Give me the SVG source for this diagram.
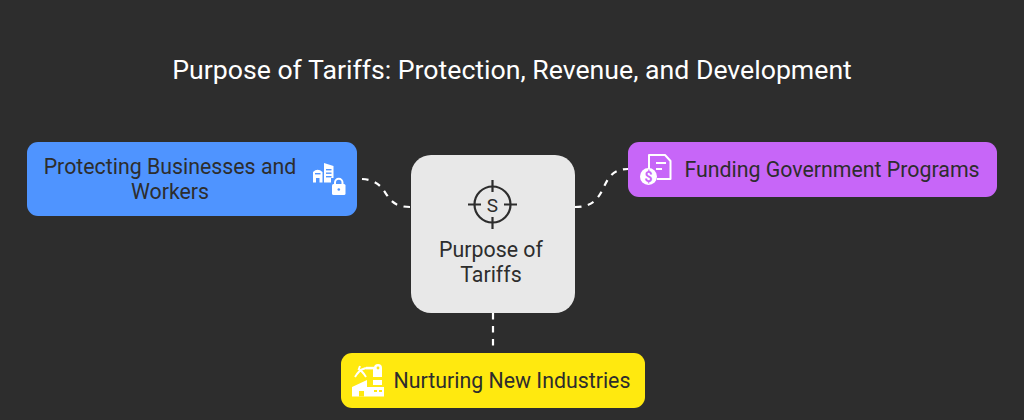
<svg xmlns="http://www.w3.org/2000/svg" width="1024" height="420" viewBox="0 0 1024 420">
<style>
text{font-family:Roboto,"Liberation Sans",sans-serif;font-size:21.33px;fill:#2d2d2d;text-anchor:middle}
.t{fill:#fff;font-size:26.67px}
.c{fill:none;stroke:#fff;stroke-width:2.2;stroke-dasharray:6.500 6.500}
.w{fill:#fff}
.ws{fill:none;stroke:#fff;stroke-width:2;stroke-linejoin:round}
.k{fill:none;stroke:#2d2d2d;stroke-width:2.2}
</style>
<rect width="1024" height="420" fill="#2d2d2d"/>
<text class="t" x="512" y="79">Purpose of Tariffs: Protection, Revenue, and Development</text>
<g id="connectors">
<path class="c" d="M362 179C392 181 380 207 410 207"/>
<path class="c" d="M575 207C612 207 596 169 628 169"/>
<path class="c" d="M493 313V346"/>
</g>
<g id="node-protecting">
<rect x="27" y="142" width="330" height="74" rx="11" fill="#4f94ff"/>
<text x="170" y="174">Protecting Businesses and</text>
<text x="170" y="199">Workers</text>
<path class="w" d="M313 172Q317.500 167.500 322.500 172V182.500H319.500V178H316V182.500H313ZM324 163L333.500 166V178H331V182.500H324Z"/>
<rect x="315" y="173" width="5.500" height="1.400" fill="#4f94ff"/>
<rect x="326" y="169" width="5.500" height="1.400" fill="#4f94ff"/><rect x="326" y="172.500" width="5.500" height="1.400" fill="#4f94ff"/><rect x="326" y="176" width="5.500" height="1.400" fill="#4f94ff"/>
<rect x="332" y="184" width="13.500" height="11" rx="1.500" class="w"/>
<path d="M335 185V182.500a3.700 3.700 0 0 1 7.500 0V185" fill="none" stroke="#fff" stroke-width="2"/>
<circle cx="338.800" cy="189.500" r="1.300" fill="#4f94ff"/>
</g>
<g id="node-funding">
<rect x="628" y="142" width="369" height="55" rx="11" fill="#c766f8"/>
<text x="832" y="177">Funding Government Programs</text>
<path class="ws" d="M649 170V155H665L670.500 161V179H657"/>
<path class="ws" d="M656 163H666M656 169H662"/>
<circle cx="648.500" cy="176.500" r="8.500" class="w"/>
<text x="648.500" y="181.500" style="font-size:14px;font-weight:bold;fill:#c766f8">$</text>
</g>
<g id="node-purpose">
<rect x="411" y="155" width="164" height="158" rx="20" fill="#e8e8e8"/>
<circle class="k" cx="492.500" cy="204.500" r="18"/>
<path class="k" d="M492.500 180V192M492.500 217V229M468 204.500H481M504 204.500H517"/>
<text x="492.500" y="211.500" style="font-size:19px">S</text>
<text x="491" y="257">Purpose of</text>
<text x="491" y="282">Tariffs</text>
</g>
<g id="node-nurturing">
<rect x="341" y="353" width="304" height="55" rx="11" fill="#ffe90f"/>
<text x="512" y="388">Nurturing New Industries</text>
<path class="w" d="M352 396.500V387L367 380V387H384V396.500Z"/>
<rect x="373" y="380" width="9" height="5" class="w"/>
<path class="w" d="M373 368H382V377H373Z"/>
<circle cx="378" cy="368" r="4" class="w"/>
<rect x="366" y="366.800" width="10" height="2.600" class="w"/>
<path class="ws" d="M366 368L360.500 370L357 374L355 377M360.500 370L364 374L366 377M358.500 370L360 366" stroke-width="2.500"/>
<circle cx="378" cy="368" r="1.400" fill="#ffe90f"/>
<rect x="374" y="390" width="3" height="2" fill="#ffe90f"/><rect x="379" y="390" width="3" height="2" fill="#ffe90f"/>
<rect x="359" y="391" width="5" height="5.500" fill="#ffe90f"/>
</g>
</svg>
